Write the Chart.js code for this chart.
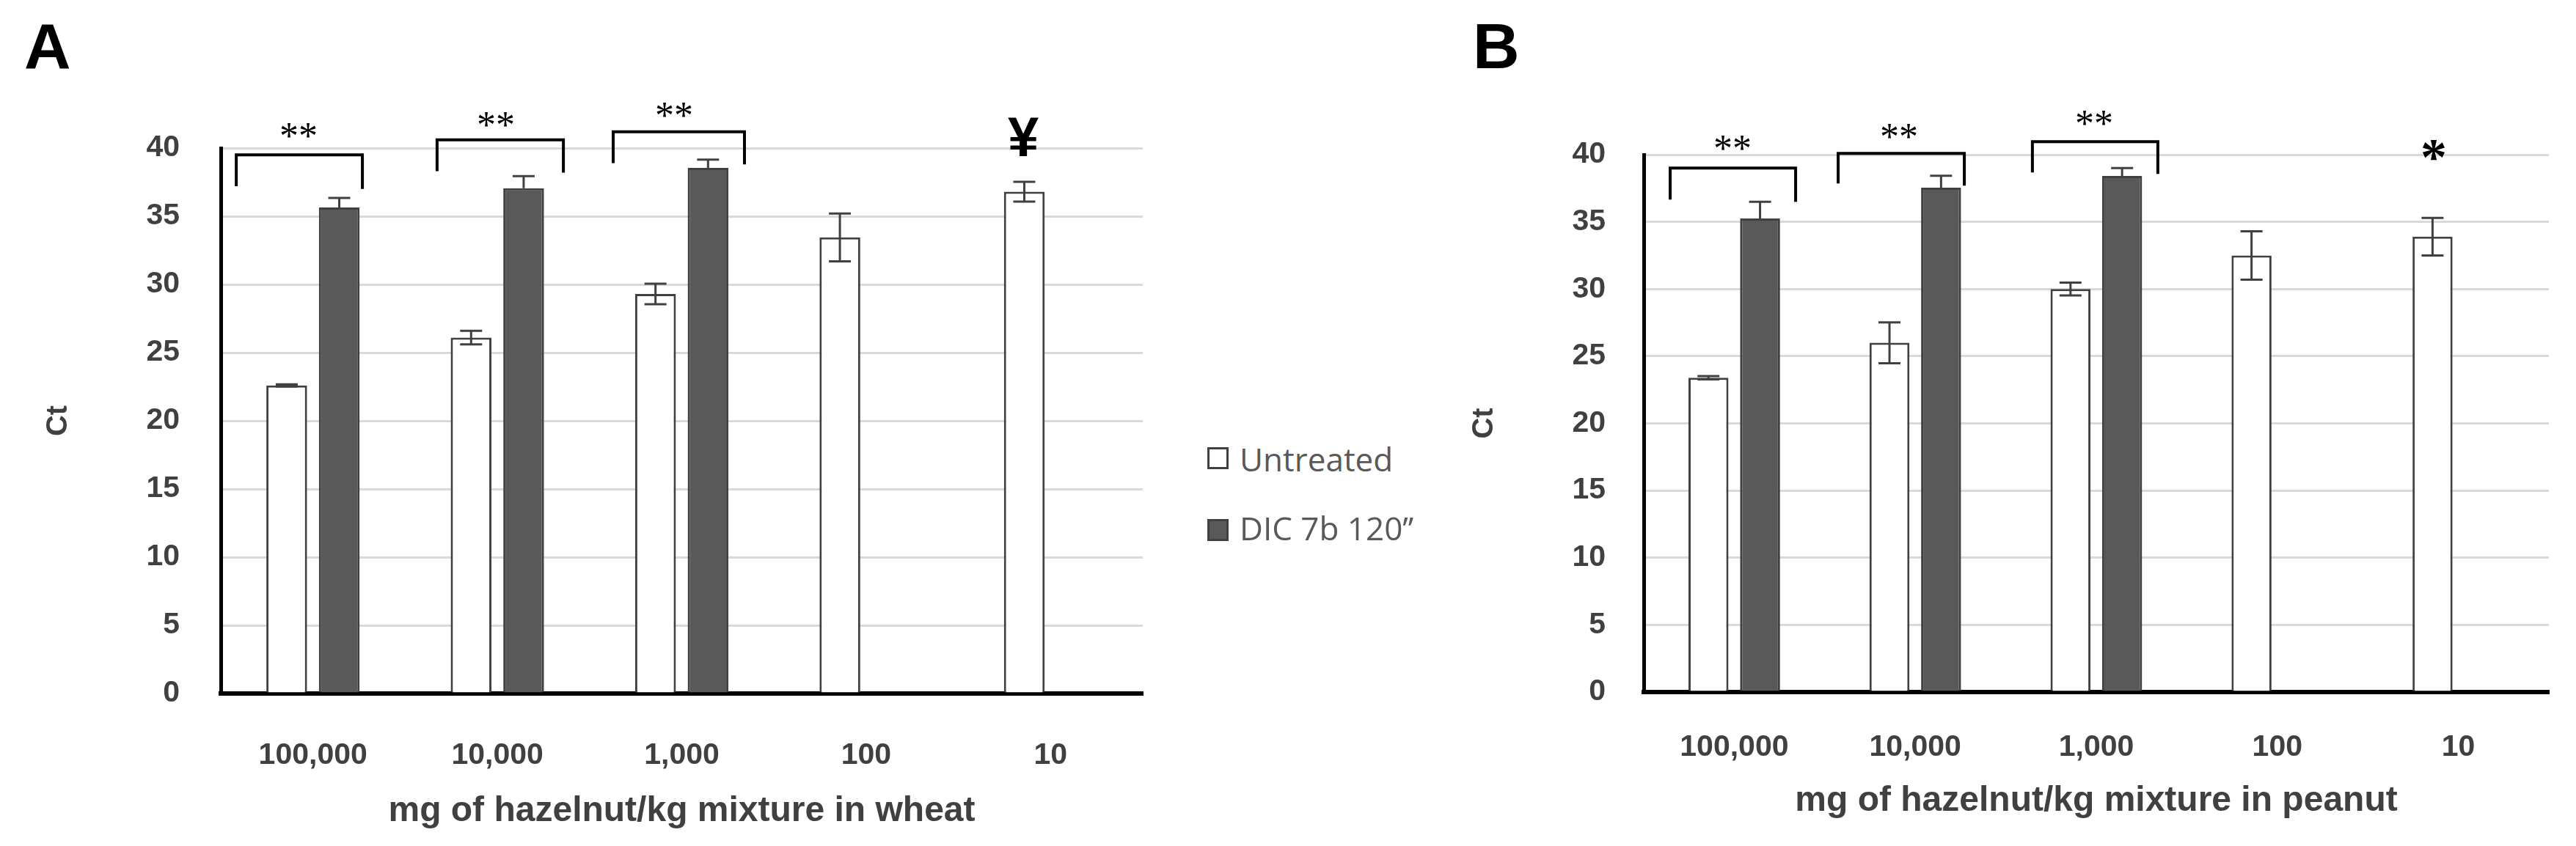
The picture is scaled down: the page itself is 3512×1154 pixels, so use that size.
<!DOCTYPE html>
<html>
<head>
<meta charset="utf-8">
<script src="https://cdn.jsdelivr.net/npm/chart.js@4.4.1/dist/chart.umd.min.js"></script>
<style>
    body { margin: 0; width: 3512px; height: 1154px; background: #fff; position: relative; overflow: hidden; }
    canvas { position: absolute; top: 0; }
    .panelLetter { position: absolute; font: bold 88px 'Liberation Sans', Arial, sans-serif; line-height: 88px; color: #000; }
    .legendBox { position: absolute; box-sizing: border-box; width: 29px; height: 30px; border: 3px solid #404040; }
    .legendText { position: absolute; font: 44px 'Open Sans', sans-serif; line-height: 44px; color: #595959; white-space: nowrap; }
</style>
</head>
<body>
<div class="panelLetter" style="left:33px;top:19px">A</div>
<div class="panelLetter" style="left:2008px;top:19px">B</div>

<canvas id="wheatChart" width="1600" height="1154" style="left:0"></canvas>
<canvas id="peanutChart" width="1612" height="1154" style="left:1900px"></canvas>

<div class="legendBox" style="left:1646px;top:610px;background:#fff"></div>
<div class="legendText" style="left:1690px;top:604px">Untreated</div>
<div class="legendBox" style="left:1646px;top:708px;background:#595959"></div>
<div class="legendText" style="left:1690px;top:698px">DIC 7b 120’’</div>

<script>
(function(){
    'use strict';

    const categories = ['100,000', '10,000', '1,000', '100', '10'];
    const yTicks = [0, 5, 10, 15, 20, 25, 30, 35, 40];

    // wheat mixture (A)
    const wheatUntreated = [22.6, 26.1, 29.3, 33.45, 36.8];
    const wheatUntreatedErr = [0.08, 0.5, 0.75, 1.75, 0.73];
    const wheatDic = [35.65, 37.05, 38.55, null, null];
    const wheatDicErr = [0.7, 0.9, 0.6, null, null];

    // peanut mixture (B)
    const peanutUntreated = [23.4, 26.0, 30.0, 32.5, 33.9];
    const peanutUntreatedErr = [0.12, 1.52, 0.48, 1.8, 1.4];
    const peanutDic = [35.25, 37.55, 38.42, null, null];
    const peanutDicErr = [1.25, 0.88, 0.58, null, null];

    // significance brackets: [category, left offset, right offset, top, left leg end, right leg end]
    const wheatBrackets = [
        [0, -0.416, 0.268, 39.5, 37.2, 37.0],
        [1, -0.327, 0.358, 40.6, 38.3, 38.2],
        [2, -0.372, 0.340, 41.2, 38.9, 38.8]
    ];
    const wheatMarks = [
        [0, -0.078, 41.3, '**'],
        [1, -0.008, 42.1, '**'],
        [2, -0.042, 42.8, '**'],
        [4, -0.148, 40.85, '¥']
    ];
    const peanutBrackets = [
        [0, -0.354, 0.339, 39.0, 36.66, 36.5],
        [1, -0.426, 0.271, 40.1, 37.86, 37.7],
        [2, -0.353, 0.340, 40.97, 38.68, 38.57]
    ];
    const peanutMarks = [
        [0, -0.01, 40.86, '**'],
        [1, -0.09, 41.73, '**'],
        [2, -0.012, 42.72, '**'],
        [4, -0.136, 40.31, '*']
    ];

    const markFonts = {
        '**': "52px 'Liberation Serif', serif",
        '*': "bold 72px 'Liberation Serif', serif",
        '¥': "bold 76px 'Liberation Sans', Arial, sans-serif"
    };

    Chart.defaults.font.family = "'Liberation Sans', Arial, sans-serif";

    const errorBarPlugin = {
        id: 'errorBars',
        afterDatasetsDraw(chart){
            const ctx = chart.ctx;
            const yScale = chart.scales.y;
            ctx.save();
            ctx.strokeStyle = '#404040';
            ctx.lineWidth = 3;
            chart.data.datasets.forEach(function(ds, d){
                const meta = chart.getDatasetMeta(d);
                meta.data.forEach(function(bar, i){
                    const v = ds.data[i];
                    const e = ds.errors[i];
                    if (v == null || e == null) return;
                    const top = yScale.getPixelForValue(v + e);
                    const bottom = ds.upperOnly ? yScale.getPixelForValue(v) : yScale.getPixelForValue(v - e);
                    ctx.beginPath();
                    ctx.moveTo(bar.x, top);
                    ctx.lineTo(bar.x, bottom);
                    ctx.moveTo(bar.x - 15, top);
                    ctx.lineTo(bar.x + 15, top);
                    if (!ds.upperOnly){
                        ctx.moveTo(bar.x - 15, bottom);
                        ctx.lineTo(bar.x + 15, bottom);
                    }
                    ctx.stroke();
                });
            });
            ctx.restore();
        }
    };

    function makeSigPlugin(brackets, marks){
        return {
            id: 'sigMarks',
            afterDraw(chart){
                const ctx = chart.ctx;
                const x = chart.scales.x;
                const y = chart.scales.y;
                ctx.save();
                ctx.strokeStyle = '#000';
                ctx.lineWidth = 4;
                brackets.forEach(function(b){
                    const x0 = x.getPixelForValue(b[0] + b[1]);
                    const x1 = x.getPixelForValue(b[0] + b[2]);
                    ctx.beginPath();
                    ctx.moveTo(x0, y.getPixelForValue(b[4]));
                    ctx.lineTo(x0, y.getPixelForValue(b[3]));
                    ctx.lineTo(x1, y.getPixelForValue(b[3]));
                    ctx.lineTo(x1, y.getPixelForValue(b[5]));
                    ctx.stroke();
                });
                ctx.fillStyle = '#000';
                ctx.textAlign = 'left';
                ctx.textBaseline = 'alphabetic';
                marks.forEach(function(m){
                    ctx.font = markFonts[m[3]];
                    const box = ctx.measureText(m[3]);
                    const cx = x.getPixelForValue(m[0] + m[1]);
                    const cy = y.getPixelForValue(m[2]);
                    const tx = cx - (box.actualBoundingBoxRight - box.actualBoundingBoxLeft) / 2;
                    const ty = cy + (box.actualBoundingBoxAscent - box.actualBoundingBoxDescent) / 2;
                    ctx.fillText(m[3], tx, ty);
                });
                ctx.restore();
            }
        };
    }

    function makeChart(canvas, untreated, untreatedErr, dic, dicErr, brackets, marks, xTitle, box){
        return new Chart(canvas, {
            type: 'bar',
            data: {
                labels: categories,
                datasets: [
                    {
                        label: 'Untreated',
                        data: untreated,
                        errors: untreatedErr,
                        backgroundColor: '#ffffff',
                        borderColor: '#404040',
                        borderWidth: 3,
                        categoryPercentage: 0.57,
                        barPercentage: 0.775
                    },
                    {
                        label: 'DIC 7b 120’’',
                        data: dic,
                        errors: dicErr,
                        upperOnly: true,
                        backgroundColor: '#595959',
                        borderColor: '#404040',
                        borderWidth: 3,
                        categoryPercentage: 0.57,
                        barPercentage: 0.775
                    }
                ]
            },
            options: {
                responsive: false,
                animation: false,
                events: [],
                layout: {
                    padding: { top: box.top, right: box.right, bottom: 0, left: 0 }
                },
                plugins: {
                    legend: { display: false },
                    tooltip: { enabled: false }
                },
                scales: {
                    x: {
                        grid: { display: false },
                        border: { color: '#000', width: 6 },
                        ticks: {
                            color: '#404040',
                            font: { size: 41, weight: 'bold' },
                            padding: box.xTickPad
                        },
                        title: {
                            display: true,
                            text: xTitle,
                            color: '#404040',
                            font: { size: 48, weight: 'bold' },
                            padding: { top: 0, bottom: box.xTitlePad }
                        },
                        afterFit: function(scale){ scale.height = box.xHeight; }
                    },
                    y: {
                        min: 0,
                        max: 40,
                        afterBuildTicks: function(scale){
                            scale.ticks = yTicks.map(function(v){ return { value: v }; });
                        },
                        grid: { color: '#d9d9d9', lineWidth: 3, drawTicks: false },
                        border: { color: '#000', width: 5 },
                        ticks: {
                            color: '#404040',
                            font: { size: 41, weight: 'bold' },
                            padding: box.yTickPad
                        },
                        title: {
                            display: true,
                            text: 'Ct',
                            color: '#404040',
                            font: { size: 40, weight: 'bold' },
                            padding: { top: box.yTitlePad, bottom: 0 }
                        },
                        afterFit: function(scale){ scale.width = box.yWidth; }
                    }
                }
            },
            plugins: [errorBarPlugin, makeSigPlugin(brackets, marks)]
        });
    }

    makeChart(document.querySelector('#wheatChart'),
        wheatUntreated, wheatUntreatedErr, wheatDic, wheatDicErr,
        wheatBrackets, wheatMarks, 'mg of hazelnut/kg mixture in wheat',
        { top: 202, right: 42, xHeight: 208, yWidth: 301, xTickPad: 52, xTitlePad: 18, yTickPad: 56, yTitlePad: 56 });

    makeChart(document.querySelector('#peanutChart'),
        peanutUntreated, peanutUntreatedErr, peanutDic, peanutDicErr,
        peanutBrackets, peanutMarks, 'mg of hazelnut/kg mixture in peanut',
        { top: 211, right: 37, xHeight: 210, yWidth: 341, xTickPad: 43, xTitlePad: 32, yTickPad: 52, yTitlePad: 100 });
})();
</script>
</body>
</html>
